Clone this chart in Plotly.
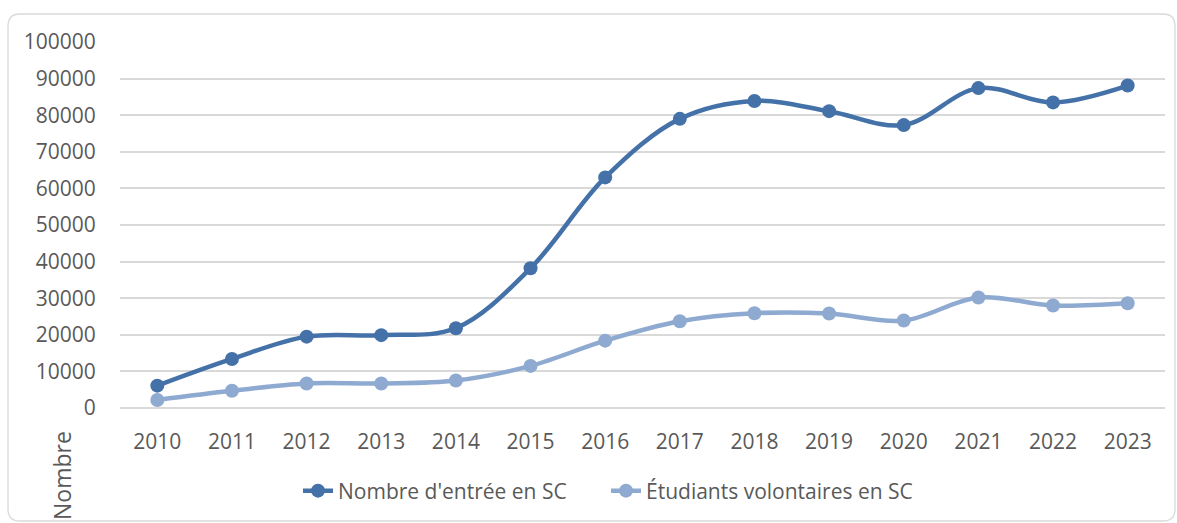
import plotly.graph_objects as go

years = ["2010", "2011", "2012", "2013", "2014", "2015", "2016",
         "2017", "2018", "2019", "2020", "2021", "2022", "2023"]
entrees = [6100, 13400, 19500, 19900, 21800, 38200, 63000,
           79000, 83900, 81100, 77300, 87400, 83500, 88100]
volontaires = [2200, 4700, 6700, 6700, 7500, 11500, 18400,
               23700, 25900, 25800, 23900, 30200, 28000, 28600]
y_ticks = [0, 10000, 20000, 30000, 40000, 50000, 60000, 70000, 80000, 90000, 100000]

dark = "#4472A8"
light = "#8FAAD1"
grid = "#D9D9D9"
txt = "#595959"
FONT = "Open Sans"

fig = go.Figure()
fig.add_trace(go.Scatter(
    x=years, y=entrees, name="Nombre d'entrée en SC",
    mode="lines+markers", line=dict(color=dark, width=4.5, shape="spline", smoothing=1),
    marker=dict(color=dark, size=14)))
fig.add_trace(go.Scatter(
    x=years, y=volontaires, name="Étudiants volontaires en SC",
    mode="lines+markers", line=dict(color=light, width=4.5, shape="spline", smoothing=1),
    marker=dict(color=light, size=14)))

W, H = 1177, 523
L, R, T, B = 120, 12, 42, 115
pw, ph = W - L - R, H - T - B

def px(x):
    return (x - L) / pw

def py(y):
    return (H - B - y) / ph

# rounded border
x0, x1, y0, y1 = 8, 1175, 14, 521
r = 12
path = (f"M {px(x0 + r)},{py(y0)} L {px(x1 - r)},{py(y0)} "
        f"Q {px(x1)},{py(y0)} {px(x1)},{py(y0 + r)} "
        f"L {px(x1)},{py(y1 - r)} Q {px(x1)},{py(y1)} {px(x1 - r)},{py(y1)} "
        f"L {px(x0 + r)},{py(y1)} Q {px(x0)},{py(y1)} {px(x0)},{py(y1 - r)} "
        f"L {px(x0)},{py(y0 + r)} Q {px(x0)},{py(y0)} {px(x0 + r)},{py(y0)} Z")
fig.add_shape(type="path", path=path, xref="paper", yref="paper",
              line=dict(color=grid, width=1.3), layer="below")

fig.add_annotation(text="Nombre", x=px(62), y=py(476), xref="paper", yref="paper",
                   xanchor="center", yanchor="middle",
                   textangle=-90, showarrow=False,
                   font=dict(family=FONT, size=23, color=txt))

fig.update_layout(
    width=W, height=H,
    margin=dict(l=L, r=R, t=T, b=B, pad=0),
    paper_bgcolor="white", plot_bgcolor="white",
    font=dict(family=FONT, size=21, color=txt),
    showlegend=True,
    legend=dict(orientation="h", x=px(606), y=py(491), xanchor="center", yanchor="middle",
                font=dict(family=FONT, size=21, color=txt),
                entrywidth=263, entrywidthmode="pixels",
                bgcolor="rgba(0,0,0,0)"),
    xaxis=dict(type="category", showgrid=False, zeroline=False, showline=False,
               ticks="outside", ticklen=15, tickcolor="rgba(0,0,0,0)",
               tickfont=dict(family=FONT, size=21, color=txt),
               range=[-0.5, len(years) - 0.5]),
    yaxis=dict(range=[0, 100000], tickvals=y_ticks, ticktext=[str(v) for v in y_ticks],
               showgrid=True, gridcolor=grid, gridwidth=1.5,
               zeroline=True, zerolinecolor=grid, zerolinewidth=1.5,
               showline=False, ticks="outside", ticklen=19, tickcolor="rgba(0,0,0,0)",
               tickfont=dict(family=FONT, size=21, color=txt)),
)

fig.write_html("out.html", config={"displayModeBar": False},
               post_script="document.body.style.margin='0';document.body.style.padding='0';")
